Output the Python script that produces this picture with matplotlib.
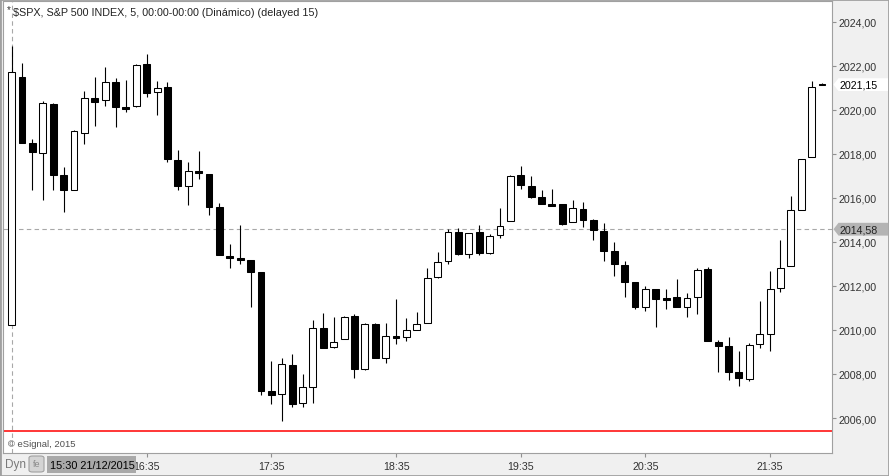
import matplotlib
matplotlib.use("Agg")
import matplotlib.pyplot as plt
import matplotlib.transforms as mtransforms
from matplotlib.patches import Polygon, Rectangle, FancyBboxPatch
import numpy as np

plt.rcParams['font.family'] = ['Liberation Sans', 'DejaVu Sans']

# 5-minute bars, 15:30 -> 22:00
times = ['15:30', '15:35', '15:40', '15:45', '15:50', '15:55',
         '16:00', '16:05', '16:10', '16:15', '16:20', '16:25', '16:30', '16:35', '16:40', '16:45',
         '16:50', '16:55', '17:00', '17:05', '17:10', '17:15', '17:20', '17:25', '17:30', '17:35',
         '17:40', '17:45', '17:50', '17:55', '18:00', '18:05', '18:10', '18:15', '18:20', '18:25',
         '18:30', '18:35', '18:40', '18:45', '18:50', '18:55', '19:00', '19:05', '19:10', '19:15',
         '19:20', '19:25', '19:30', '19:35', '19:40', '19:45', '19:50', '19:55', '20:00', '20:05',
         '20:10', '20:15', '20:20', '20:25', '20:30', '20:35', '20:40', '20:45', '20:50', '20:55',
         '21:00', '21:05', '21:10', '21:15', '21:20', '21:25', '21:30', '21:35', '21:40', '21:45',
         '21:50', '21:55', '22:00']

opens = [2010.23, 2021.49, 2018.49, 2018.03, 2020.27, 2017.05, 2016.38, 2018.97, 2020.53, 2020.44,
         2021.26, 2020.14, 2020.17, 2022.09, 2020.80, 2021.03, 2017.73, 2016.56, 2017.23, 2017.09,
         2015.58, 2013.36, 2013.27, 2013.18, 2012.64, 2007.21, 2007.08, 2008.40, 2006.68, 2007.40,
         2010.08, 2009.21, 2009.58, 2010.64, 2008.24, 2010.27, 2008.71, 2009.73, 2009.67, 2009.99,
         2010.30, 2012.40, 2013.12, 2014.44, 2013.47, 2014.44, 2013.51, 2014.30, 2014.94, 2017.05,
         2016.55, 2016.05, 2015.73, 2015.71, 2014.90, 2015.49, 2014.99, 2014.50, 2013.58, 2012.94,
         2012.17, 2011.03, 2011.85, 2011.45, 2011.50, 2011.03, 2011.49, 2012.76, 2009.44, 2009.26,
         2008.08, 2007.76, 2009.35, 2009.80, 2011.90, 2012.90, 2015.44, 2017.85, 2021.17]
highs = [2022.92, 2022.14, 2018.68, 2020.40, 2020.32, 2017.42, 2019.10, 2020.86, 2021.51, 2021.95,
         2021.44, 2021.36, 2022.10, 2022.55, 2021.32, 2021.26, 2018.18, 2017.64, 2018.14, 2017.09,
         2015.77, 2013.91, 2014.77, 2013.18, 2012.64, 2008.60, 2008.73, 2008.91, 2008.00, 2010.45,
         2010.77, 2010.59, 2010.64, 2010.73, 2010.32, 2010.32, 2010.32, 2011.41, 2010.55, 2010.80,
         2012.82, 2013.55, 2014.58, 2014.64, 2014.40, 2014.77, 2014.35, 2015.53, 2017.05, 2017.47,
         2017.00, 2016.36, 2016.41, 2015.71, 2015.91, 2015.82, 2015.03, 2014.86, 2014.00, 2013.12,
         2012.17, 2012.00, 2011.85, 2011.86, 2012.32, 2011.68, 2012.80, 2012.85, 2009.55, 2009.67,
         2009.03, 2009.42, 2011.30, 2012.68, 2014.09, 2016.09, 2017.76, 2021.30, 2021.24]
lows = [2010.23, 2018.51, 2016.38, 2015.92, 2016.38, 2015.38, 2016.38, 2018.47, 2019.29, 2020.20,
        2019.24, 2019.92, 2020.12, 2020.60, 2019.79, 2017.62, 2016.36, 2015.68, 2016.86, 2015.23,
        2013.42, 2012.83, 2013.00, 2011.06, 2007.06, 2006.64, 2005.88, 2006.49, 2006.49, 2006.67,
        2009.20, 2009.17, 2009.58, 2007.83, 2008.20, 2008.74, 2008.51, 2009.38, 2009.49, 2009.99,
        2010.30, 2012.35, 2013.01, 2013.41, 2013.29, 2013.41, 2013.47, 2014.20, 2014.94, 2016.42,
        2016.01, 2015.74, 2015.65, 2014.79, 2014.90, 2014.70, 2014.10, 2013.15, 2012.47, 2011.51,
        2010.97, 2010.88, 2010.15, 2010.97, 2011.03, 2010.60, 2010.73, 2009.51, 2008.08, 2007.74,
        2007.44, 2007.67, 2009.17, 2009.06, 2011.71, 2012.90, 2015.44, 2017.85, 2021.13]
closes = [2021.71, 2018.51, 2018.08, 2020.30, 2017.06, 2016.38, 2019.05, 2020.53, 2020.38, 2021.26,
          2020.15, 2020.06, 2022.05, 2020.79, 2021.00, 2017.76, 2016.56, 2017.21, 2017.15, 2015.60,
          2013.42, 2013.26, 2013.20, 2012.65, 2007.24, 2007.06, 2008.44, 2006.65, 2007.40, 2010.08,
          2009.20, 2009.44, 2010.58, 2008.24, 2010.27, 2008.74, 2009.71, 2009.65, 2009.99, 2010.26,
          2012.35, 2013.08, 2014.44, 2013.45, 2014.40, 2013.50, 2014.26, 2014.71, 2016.99, 2016.60,
          2016.06, 2015.74, 2015.65, 2014.83, 2015.53, 2015.01, 2014.53, 2013.60, 2013.01, 2012.20,
          2011.06, 2011.85, 2011.42, 2011.38, 2011.06, 2011.44, 2012.71, 2009.51, 2009.29, 2008.08,
          2007.80, 2009.33, 2009.80, 2011.85, 2012.80, 2015.44, 2017.76, 2021.03, 2021.13]

tick_times = ['16:35', '17:35', '18:35', '19:35', '20:35', '21:35']
price_ticks = [2006, 2008, 2010, 2012, 2014, 2016, 2018, 2020, 2022, 2024]
last_price = 2021.15
cross_price = 2014.58
red_level = 2005.4

W, H = 889, 477
fig = plt.figure(figsize=(W / 100, H / 100), dpi=100, facecolor='#f0f0f0')
ax = fig.add_axes([3 / W, 23 / H, 829 / W, 452 / H], facecolor='white')

idx = np.arange(len(times))
o = np.array(opens)
c = np.array(closes)
up = c >= o
bottoms = np.minimum(o, c)
heights = np.maximum(np.abs(c - o), 0.05)
fills = np.where(up, 'white', 'black')

ax.vlines(idx, lows, highs, color='black', lw=0.8, zorder=2)
ax.bar(idx, heights, bottom=bottoms, width=0.66, color=fills, edgecolor='black',
       linewidth=0.75, zorder=3)

ax.axhline(cross_price, color='#a8a8a8', lw=0.8, dashes=(4, 3), zorder=1)
ax.axvline(0, color='#a8a8a8', lw=0.8, dashes=(4, 3), zorder=1)
ax.axhline(red_level, color='#ff0000', lw=1.1, zorder=1)

ax.set_xlim(-0.83, 78.96)
ax.set_ylim(2004.41, 2024.95)

ax.yaxis.tick_right()
ax.set_yticks(price_ticks)
ax.set_yticklabels([f'{p:.2f}'.replace('.', ',') for p in price_ticks])
ax.set_xticks([times.index(t) for t in tick_times])
ax.set_xticklabels(tick_times)
ax.tick_params(axis='y', direction='out', length=3, width=0.8, color='#909090',
               labelsize=7.7, labelcolor='#333333', pad=2)
ax.tick_params(axis='x', direction='out', length=3, width=0.8, color='#909090',
               labelsize=7.7, labelcolor='#333333', pad=2.5)
for s in ax.spines.values():
    s.set_color('#a0a0a0')
    s.set_linewidth(0.8)

ax.text(0.0075, 0.982, '*', transform=ax.transAxes, fontsize=7, color='#333333',
        ha='center', va='center')
ax.text(0.012, 0.976, '\\$SPX, S&P 500 INDEX, 5, 00:00-00:00 (Dinámico) (delayed 15)',
        transform=ax.transAxes, fontsize=7.75, color='#222222', va='center', ha='left')
ax.text(0.006, 0.02, '© eSignal, 2015', transform=ax.transAxes, fontsize=6.8,
        color='#505050', va='center', ha='left')


# price tags on the right scale
def price_tag(value, label, face, txt_color):
    trans = fig.dpi_scale_trans + mtransforms.ScaledTranslation(
        1.0, value, ax.get_yaxis_transform())
    verts = [(0.015, 0), (0.065, 0.064), (0.56, 0.064), (0.56, -0.064), (0.065, -0.064)]
    fig.add_artist(Polygon(verts, closed=True, transform=trans, facecolor=face,
                           edgecolor='none', zorder=2))
    tt = mtransforms.offset_copy(ax.get_yaxis_transform(), fig=fig, x=0.07, y=0,
                                 units='inches')
    fig.text(1.0, value, label, transform=tt, fontsize=7.7, color=txt_color,
             va='center', ha='left', zorder=3)


price_tag(last_price, f'{last_price:.2f}'.replace('.', ','), 'white', 'black')
price_tag(cross_price, f'{cross_price:.2f}'.replace('.', ','), '#b4b4b4', '#222222')

# bottom bar widgets
fig.text(5 / W, 1 - 465 / H, 'Dyn', fontsize=8.5, color='#7a7a7a', va='center', ha='left')
fig.add_artist(FancyBboxPatch((29 / W, 1 - 473 / H), 15 / W, 16 / H,
                              boxstyle='round,pad=0,rounding_size=0.004',
                              transform=fig.transFigure, facecolor='#d4d4d4',
                              edgecolor='#a0a0a0', lw=0.8, zorder=2))
fig.text(36.5 / W, 1 - 465 / H, 'fe', fontsize=6.5, color='#8a8a8a', va='center',
         ha='center', zorder=3)
fig.add_artist(Rectangle((47 / W, 1 - 474 / H), 89 / W, 17 / H, transform=fig.transFigure,
                         facecolor='#a9a9a9', edgecolor='none', zorder=2))
fig.text(50 / W, 1 - 466 / H, '15:30 21/12/2015', fontsize=7.8, color='black',
         va='center', ha='left', zorder=3)

fig.add_artist(Rectangle((0, 0), 1, 1, transform=fig.transFigure, fill=False,
                         edgecolor='#a0a0a0', lw=2, zorder=5))

fig.savefig('out.png', dpi=100, facecolor=fig.get_facecolor())
